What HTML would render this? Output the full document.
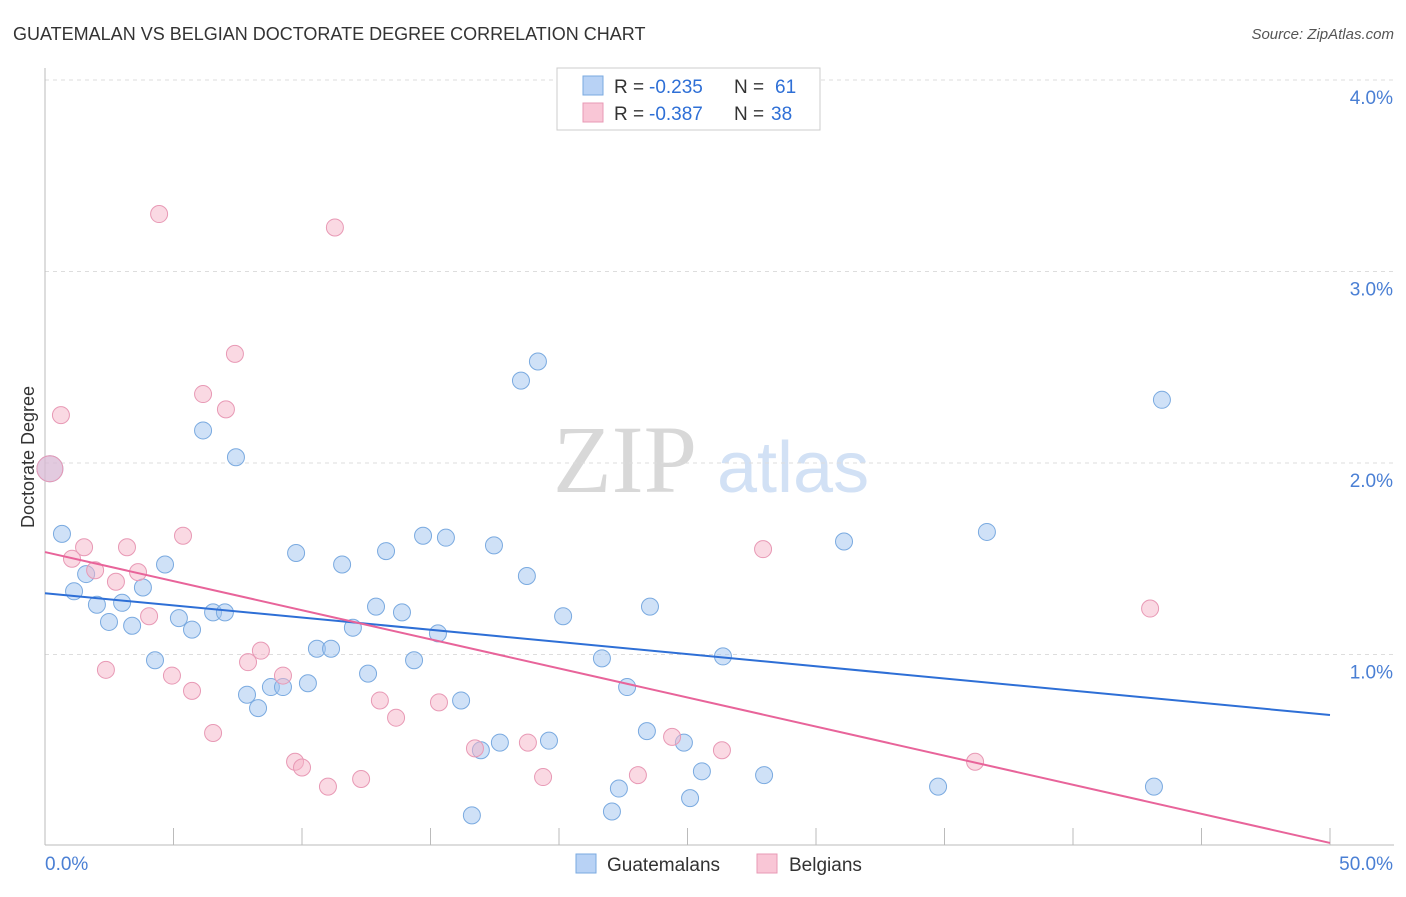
<!DOCTYPE html>
<html><head><meta charset="utf-8"><style>
body{margin:0;background:#fff;font-family:"Liberation Sans",sans-serif}
</style></head><body>
<svg id="chart" width="1406" height="892" xmlns="http://www.w3.org/2000/svg" style="font-family:'Liberation Sans',sans-serif">
<text x="13" y="40" font-size="18" fill="#333">GUATEMALAN VS BELGIAN DOCTORATE DEGREE CORRELATION CHART</text>
<text x="1394" y="39" font-size="15" fill="#555" text-anchor="end" font-style="italic">Source: ZipAtlas.com</text>
<g>
<text x="553" y="492" font-size="96" fill="#d8d8d8" font-family="'Liberation Serif',serif">ZIP</text>
<text x="717" y="492" font-size="72" fill="#d2e1f5">atlas</text>
</g>
<g id="grid"></g>
<g id="axes"></g>
<g id="marks"></g>
<text transform="translate(34,457) rotate(-90)" font-size="18" fill="#333" text-anchor="middle">Doctorate Degree</text>
<g>
<rect x="557" y="68" width="263" height="62" fill="#fff" stroke="#ccc"/>
<rect x="583" y="76" width="20" height="19" fill="#b8d2f5" stroke="#7aaae0"/>
<rect x="583" y="103" width="20" height="19" fill="#f9c6d6" stroke="#e899b5"/>
<text x="614" y="93" font-size="19" fill="#333">R =</text>
<text x="649" y="93" font-size="19" fill="#2e6fd6">-0.235</text>
<text x="734" y="93" font-size="19" fill="#333">N =</text>
<text x="775" y="93" font-size="19" fill="#2e6fd6">61</text>
<text x="614" y="120" font-size="19" fill="#333">R =</text>
<text x="649" y="120" font-size="19" fill="#2e6fd6">-0.387</text>
<text x="734" y="120" font-size="19" fill="#333">N =</text>
<text x="771" y="120" font-size="19" fill="#2e6fd6">38</text>
</g>
<g>
<rect x="576" y="854" width="20" height="19" fill="#b8d2f5" stroke="#7aaae0"/>
<text x="607" y="871" font-size="19" fill="#333">Guatemalans</text>
<rect x="757" y="854" width="20" height="19" fill="#f9c6d6" stroke="#e899b5"/>
<text x="789" y="871" font-size="19" fill="#333">Belgians</text>
</g>
</svg>
<script>
const blueX=[0.19,0.66,1.60,1.13,2.02,2.49,3.00,3.39,3.81,4.28,4.67,5.21,5.72,6.15,6.54,7.00,7.43,7.86,8.29,8.79,9.26,9.77,10.23,10.58,11.13,11.56,11.98,12.57,12.88,13.27,13.89,14.36,14.71,15.29,15.60,16.19,16.61,16.96,17.47,17.70,18.52,18.75,19.18,19.61,20.16,21.67,22.06,22.33,22.65,23.42,23.54,24.86,25.10,25.56,26.38,27.98,31.09,34.75,36.65,43.15,43.46];
const blueY=[1.97,1.63,1.42,1.33,1.26,1.17,1.27,1.15,1.35,0.97,1.47,1.19,1.13,2.17,1.22,1.22,2.03,0.79,0.72,0.83,0.83,1.53,0.85,1.03,1.03,1.47,1.14,0.90,1.25,1.54,1.22,0.97,1.62,1.11,1.61,0.76,0.16,0.50,1.57,0.54,2.43,1.41,2.53,0.55,1.20,0.98,0.18,0.30,0.83,0.60,1.25,0.54,0.25,0.39,0.99,0.37,1.59,0.31,1.64,0.31,2.33];
const pinkX=[0.19,0.62,1.05,1.52,1.95,2.37,2.76,3.19,3.62,4.05,4.44,4.94,5.37,5.72,6.15,6.54,7.04,7.39,7.90,8.40,9.26,9.73,10.00,11.01,11.28,12.30,13.03,13.66,15.33,16.73,18.79,19.38,23.07,24.40,26.34,27.94,36.19,43.00];
const pinkY=[1.97,2.25,1.50,1.56,1.44,0.92,1.38,1.56,1.43,1.20,3.30,0.89,1.62,0.81,2.36,0.59,2.28,2.57,0.96,1.02,0.89,0.44,0.41,0.31,3.23,0.35,0.76,0.67,0.75,0.51,0.54,0.36,0.37,0.57,0.50,1.55,0.44,1.24];
const blueTrend=[1.32,0.684];
const pinkTrend=[1.535,0.016];
const yTicks=[1,2,3,4];
const yTickLabels=["1.0%","2.0%","3.0%","4.0%"];
const xTicks=[0,5,10,15,20,25,30,35,40,45,50];
const X0=45,X1=1330,Y0=846,YS=191.5;
const sx=v=>X0+v/50*(X1-X0);
const sy=v=>Y0-v*YS;
const NS="http://www.w3.org/2000/svg";
function mk(tag,attrs,parent){const e=document.createElementNS(NS,tag);for(const k in attrs)e.setAttribute(k,attrs[k]);parent.appendChild(e);return e;}
const grid=document.getElementById('grid'),axes=document.getElementById('axes'),marks=document.getElementById('marks');
yTicks.forEach((t,i)=>{
 const l=mk('line',{x1:X0,x2:1394,y1:sy(t),y2:sy(t),stroke:'#ddd','stroke-dasharray':'4,4'},grid);
 
 
 const tx=mk('text',{x:1393,y:sy(t)+24,'font-size':19,fill:'#4a7fd4','text-anchor':'end'},axes);
 tx.textContent=yTickLabels[i];
 
 
});
const ax=mk('line',{x1:X0,x2:X0,y1:68,y2:845,stroke:'#bbb'},axes);


const bx=mk('line',{x1:X0,x2:1394,y1:845,y2:845,stroke:'#bbb'},axes);


xTicks.forEach(t=>{const l=mk('line',{x1:sx(t),x2:sx(t),y1:828,y2:845,stroke:'#bbb'},axes);
 
 });
[[0,"0.0%",'start',45],[50,"50.0%",'end',1393]].forEach(a=>{const t=mk('text',{x:a[3],y:870,'font-size':19,fill:'#4a7fd4','text-anchor':a[2]},axes);t.textContent=a[1];
 
 });
function pts(xs,ys,fill,stroke,name){xs.forEach((x,i)=>{const r=(i===0)?13:8.5;const c=mk('circle',{cx:sx(x),cy:sy(ys[i]),r:r,fill:fill,stroke:stroke,'stroke-width':1},marks);
 
 });}
pts(blueX,blueY,'rgba(160,195,240,0.5)','#7aaae0','guatemalan-point');
pts(pinkX,pinkY,'rgba(245,180,200,0.5)','#e899b5','belgian-point');
const bl=mk('line',{x1:sx(0),y1:sy(blueTrend[0]),x2:sx(50),y2:sy(blueTrend[1]),stroke:'#2e6fd6','stroke-width':2},marks);


const pl=mk('line',{x1:sx(0),y1:sy(pinkTrend[0]),x2:sx(50),y2:sy(pinkTrend[1]),stroke:'#e8649a','stroke-width':2},marks);


</script>
</body></html>
